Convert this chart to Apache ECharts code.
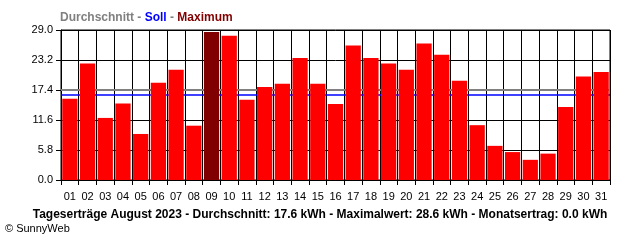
<!DOCTYPE html>
<html><head><meta charset="utf-8">
<script src="https://cdn.jsdelivr.net/npm/echarts@6/dist/echarts.min.js"></script>
<style>html,body{margin:0;padding:0;background:#fff}#c{width:640px;height:240px}</style>
</head><body><div id="c"></div>
<script>
const days = ['01','02','03','04','05','06','07','08','09','10','11','12','13','14','15','16','17','18','19','20','21','22','23','24','25','26','27','28','29','30','31'];
const yields = [15.7,22.5,12.0,14.8,8.9,18.8,21.3,10.5,28.6,27.9,15.5,18.0,18.6,23.6,18.6,14.7,26.0,23.6,22.5,21.3,26.4,24.2,19.2,10.6,6.6,5.4,3.9,5.1,14.1,20.0,20.9];
const average = 17.4;
const target = 16.4;
const maxIndex = 8;
const footer = 'Tageserträge August 2023 - Durchschnitt: 17.6 kWh - Maximalwert: 28.6 kWh - Monatsertrag: 0.0 kWh';

const chart = echarts.init(document.getElementById('c'), null, {renderer:'canvas'});
const font = 'Liberation Sans, Arial, sans-serif';
chart.setOption({
  animation:false,
  backgroundColor:'#fff',
  title:[
    {text:'{a|Durchschnitt - }{b|Soll}{a| - }{c|Maximum}', left:60, top:12, padding:0,
     textStyle:{rich:{a:{color:'#808080',fontWeight:'bold',fontSize:12,fontFamily:font},
                      b:{color:'#0000ff',fontWeight:'bold',fontSize:12,fontFamily:font},
                      c:{color:'#800000',fontWeight:'bold',fontSize:12,fontFamily:font}}}},
    {text:footer, left:'center', top:209, padding:0,
     textStyle:{color:'#000',fontWeight:'bold',fontSize:12,fontFamily:font}},
    {text:'© SunnyWeb', left:5, top:223, padding:0, textStyle:{color:'#000',fontWeight:'normal',fontSize:11,fontFamily:font}}
  ],
  grid:{left:61, right:30, top:30, bottom:60, show:true, borderColor:'#000', borderWidth:1},
  xAxis:{type:'category', data:days, boundaryGap:true,
    axisLine:{lineStyle:{color:'#000',width:1}},
    axisTick:{show:true, alignWithLabel:false, length:5, lineStyle:{color:'#000'}},
    axisLabel:{color:'#000', fontSize:11, fontFamily:font, margin:11, interval:0},
    splitLine:{show:true, lineStyle:{color:'#000',width:1}}},
  yAxis:{type:'value', min:0, max:29, interval:5.8,
    axisLine:{show:true, lineStyle:{color:'#000'}},
    axisTick:{show:true, length:5, lineStyle:{color:'#000'}},
    axisLabel:{color:'#000', fontSize:11, fontFamily:font, margin:8, formatter:v=>v.toFixed(1)},
    splitLine:{show:true, lineStyle:{color:'#000',width:1}}},
  series:[
    {type:'line', data:[], z:1, silent:true,
     markLine:{silent:true, symbol:'none', label:{show:false}, z:1,
      data:[{yAxis:average, lineStyle:{color:'#808080',width:2,type:'solid'}},
            {yAxis:target, lineStyle:{color:'#0000ff',width:1.5,type:'solid'}}]}},
    {type:'bar', z:3, data:yields.map((v,i)=>({value:v, itemStyle:{color: i===maxIndex?'#800000':'#ff0000'}})),
     barCategoryGap:'14%'}
  ]
});
</script></body></html>
